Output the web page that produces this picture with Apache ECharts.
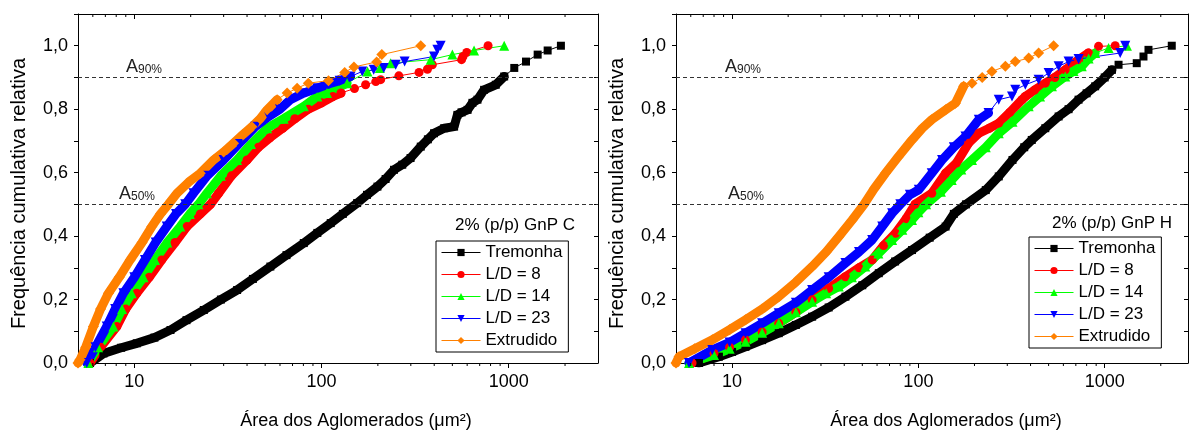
<!DOCTYPE html>
<html>
<head>
<meta charset="utf-8">
<script src="https://cdn.jsdelivr.net/npm/echarts@6/dist/echarts.min.js"></script>
<style>
  html, body { margin: 0; padding: 0; background: #fff; }
  #chart { width: 1190px; height: 430px; }
</style>
</head>
<body>
<div id="chart"></div>
<script>
// legend / series names
const seriesNames = ['Tremonha', 'L/D = 8', 'L/D = 14', 'L/D = 23', 'Extrudido'];
const panelTitles = ['2% (p/p) GnP C', '2% (p/p) GnP H'];
const xMinorTicks = [6, 7, 8, 9, 20, 30, 40, 50, 60, 70, 80, 90, 200, 300, 400, 500, 600, 700, 800, 900, 2000];
const xMax = [3000, 2800];

// 2% (p/p) GnP C  -- [area, cumulative frequency]
const cTremonha = [[5.8,0],[6.84,0.03],[8.5,0.048],[10.3,0.062],[12.8,0.08],[15.6,0.104],[19,0.135],[23.5,0.167],[29,0.2],[35.4,0.23],[43,0.265],[53.3,0.304],[65,0.34],[80.4,0.378],[95,0.41],[112,0.441],[130,0.47],[155,0.504],[175,0.53],[199,0.556],[220,0.58],[244,0.609],[270,0.625],[299,0.646],[339,0.682],[370,0.705],[399,0.724],[452,0.74],[511,0.745],[532,0.782],[560,0.79],[603,0.798],[640,0.82],[681,0.83],[739,0.861],[853,0.877],[946,0.903],[1071,0.93],[1237,0.95],[1428,0.972],[1615,0.985],[1901,1.0]];
const cLD8 = [[5.8,0],[6.6,0.05],[8.06,0.115],[9,0.17],[10.3,0.22],[12,0.27],[14,0.325],[16.5,0.38],[19.1,0.43],[22.5,0.47],[25.5,0.5],[28.2,0.535],[33,0.59],[40,0.64],[46,0.68],[53,0.71],[62,0.74],[72,0.77],[85,0.8],[100,0.82],[115,0.84],[127,0.851],[150,0.865],[172,0.877],[195,0.887],[207,0.893],[259,0.905],[332,0.916],[368,0.926],[391,0.94],[560,0.956],[570,0.966],[597,0.979],[776,1.0]];
const cLD14 = [[5.68,0],[6.4,0.05],[7.73,0.115],[8.6,0.17],[9.68,0.22],[11.2,0.27],[12.9,0.325],[15,0.38],[17.6,0.43],[19.8,0.47],[22,0.5],[24.4,0.535],[29,0.59],[35.4,0.64],[42,0.69],[51.2,0.74],[62.8,0.77],[80.4,0.809],[95,0.84],[107,0.851],[137,0.882],[176,0.919],[205,0.93],[234,0.945],[383,0.956],[500,0.972],[653,0.985],[946,1.0]];
const cLD23 = [[5.57,0],[6.2,0.05],[7.12,0.115],[7.9,0.17],[8.74,0.22],[10,0.27],[11.4,0.325],[13,0.38],[14.9,0.43],[16.7,0.47],[18.7,0.5],[20.7,0.535],[24.5,0.59],[30,0.64],[36,0.69],[44.3,0.745],[52.3,0.777],[60,0.8],[68.2,0.83],[80,0.85],[94.8,0.866],[110,0.88],[125,0.89],[143,0.903],[165,0.919],[190,0.924],[215,0.93],[249,0.94],[278,0.95],[399,0.966],[416,0.987],[433,1.0]];
const cExtrudido = [[5,0],[5.13,0.01],[5.5,0.05],[6.04,0.115],[6.6,0.17],[7.27,0.22],[8.3,0.27],[9.5,0.325],[11,0.38],[12.4,0.43],[13.8,0.47],[15.2,0.5],[16.9,0.535],[19.5,0.57],[22.5,0.598],[26.5,0.64],[30,0.665],[33.9,0.693],[38,0.72],[42.5,0.745],[47,0.77],[51.2,0.798],[57.9,0.83],[65.5,0.851],[74.1,0.866],[85,0.882],[109,0.89],[133,0.916],[149,0.933],[197,0.949],[210,0.972],[339,1.0]];

// 2% (p/p) GnP H
const hTremonha = [[6.64,0],[8.5,0.02],[10,0.035],[11.8,0.051],[14.5,0.072],[17.8,0.094],[22,0.12],[26.9,0.146],[33,0.175],[40.6,0.209],[50,0.245],[61.3,0.283],[75,0.32],[92.4,0.356],[115,0.395],[140,0.43],[155,0.47],[180,0.5],[230,0.545],[270,0.588],[320,0.64],[370,0.68],[406,0.703],[480,0.74],[566,0.777],[640,0.8],[724,0.83],[800,0.85],[889,0.872],[1000,0.9],[1094,0.924],[1187,0.94],[1486,0.945],[1615,0.966],[1718,0.987],[2291,1.0]];
const hLD8 = [[6.1,0],[8,0.03],[9.7,0.05],[11.8,0.073],[14.5,0.098],[17.8,0.125],[22,0.16],[26.9,0.199],[33,0.235],[40.6,0.272],[48,0.3],[56.5,0.325],[65,0.37],[75.4,0.409],[86,0.455],[96,0.5],[118,0.535],[140,0.598],[160,0.63],[186,0.693],[211,0.724],[240,0.74],[270,0.756],[310,0.79],[360,0.83],[375,0.84],[420,0.86],[480,0.882],[540,0.9],[614,0.924],[724,0.956],[818,0.977],[927,0.998],[1138,1.0]];
const hLD14 = [[5.87,0],[8,0.025],[9.7,0.045],[11.8,0.067],[14.5,0.095],[17.8,0.125],[22,0.16],[26.9,0.193],[32,0.22],[37.4,0.241],[44,0.27],[51.9,0.304],[61,0.345],[72.3,0.388],[82,0.42],[92.4,0.451],[100,0.475],[110,0.5],[132,0.54],[151,0.577],[170,0.61],[194,0.64],[230,0.68],[270,0.724],[320,0.76],[391,0.809],[450,0.84],[521,0.872],[614,0.903],[680,0.92],[753,0.935],[820,0.96],[889,0.977],[1049,0.993],[1316,1.0]];
const hLD23 = [[5.87,0],[7.83,0.041],[9.7,0.065],[11.8,0.094],[14.5,0.125],[17.8,0.157],[22,0.19],[26.9,0.23],[33,0.27],[40.6,0.315],[48,0.35],[56.5,0.388],[64,0.43],[72.3,0.472],[80,0.5],[90,0.53],[100.5,0.546],[118,0.598],[134,0.64],[155,0.68],[179,0.714],[211,0.767],[238,0.788],[270,0.83],[318,0.84],[331,0.861],[375,0.877],[442,0.893],[500,0.914],[566,0.935],[640,0.95],[724,0.958],[1211,0.977],[1289,1.0]];
const hExtrudido = [[5,0],[5.19,0.02],[6.3,0.045],[7.83,0.073],[9.7,0.105],[11.8,0.136],[14.5,0.17],[17.8,0.209],[22,0.255],[26.9,0.304],[32,0.35],[37.4,0.398],[44,0.45],[50.9,0.499],[58,0.55],[66.5,0.598],[78,0.65],[92.4,0.703],[105,0.74],[118,0.767],[140,0.798],[158,0.819],[175,0.872],[194,0.882],[220,0.9],[248,0.919],[293,0.935],[331,0.95],[391,0.961],[442,0.977],[532,1.0]];

// where the packed markers stop forming a solid band
const cBandTop = [0.91, 0.852, 0.9, 0.905, 0.83];
const hBandTop = [0.925, 0.98, 0.98, 0.82, 0.88];

const panels = [
  { data: [cTremonha, cLD8, cLD14, cLD23, cExtrudido], band: cBandTop },
  { data: [hTremonha, hLD8, hLD14, hLD23, hExtrudido], band: hBandTop },
];

const FONT = 'Liberation Sans, Arial, sans-serif';
const colors = ['#000000', '#ff0000', '#00ff00', '#0000ff', '#ff8000'];
const symbols = ['rect', 'circle', 'triangle', 'triangle', 'diamond'];
const rotations = [0, 0, 0, 180, 0];
const symbolSizes = [8, 9, 10, 10, 11];

const grids = [
  { left: 78, right: 592, top: 14, bottom: 67, outerBoundsMode: 'none' },
  { left: 676, right: 2, top: 14, bottom: 67, outerBoundsMode: 'none' },
];
const refLabelGap = [[48, 41], [49, 52]];
const xNameShift = [36, 28];

const xAxes = [];
const yAxes = [];
const series = [];

panels.forEach((panel, p) => {
  xAxes.push({
    gridIndex: p, type: 'log', min: 5, max: xMax[p], position: 'bottom',
    axisLine: { show: true, onZero: false, lineStyle: { color: '#000', width: 1 } },
    axisTick: { show: true, inside: false, length: 5, lineStyle: { color: '#000' } },
    axisLabel: {
      showMinLabel: false, showMaxLabel: false, margin: 10,
      fontSize: 18, color: '#000', fontFamily: FONT,
      formatter: v => String(Math.round(v)),
    },
    splitLine: { show: false },
    name: 'Área dos Aglomerados (μm²)', nameLocation: 'middle', nameGap: 49,
    nameTextStyle: { fontSize: 18, color: '#000', fontFamily: FONT, padding: [0, 0, 0, xNameShift[p]] },
  });
  xAxes.push({
    gridIndex: p, type: 'log', min: 5, max: xMax[p], position: 'top',
    axisLine: { show: true, onZero: false, lineStyle: { color: '#000', width: 1 } },
    axisTick: { show: true, inside: true, length: 5, lineStyle: { color: '#000' } },
    axisLabel: { show: false },
    splitLine: { show: false },
  });
  yAxes.push({
    gridIndex: p, type: 'value', min: 0, max: 1.1, interval: 0.1, position: 'left',
    axisLine: { show: true, onZero: false, lineStyle: { color: '#000', width: 1 } },
    axisTick: { show: true, inside: false, length: 4, lineStyle: { color: '#000' } },
    axisLabel: {
      margin: 10, fontSize: 18, color: '#000', fontFamily: FONT,
      formatter: v => {
        const k = Math.round(v * 10);
        return (k % 2 === 0 && k <= 10) ? (k / 10).toFixed(1).replace('.', ',') : '';
      },
    },
    splitLine: { show: false },
    name: 'Frequência cumulativa relativa', nameLocation: 'middle', nameGap: 49,
    nameTextStyle: { fontSize: 20, color: '#000', fontFamily: FONT, padding: [0, 10, 0, 0] },
  });
  yAxes.push({
    gridIndex: p, type: 'value', min: 0, max: 1.1, interval: 0.1, position: 'right',
    axisLine: { show: true, onZero: false, lineStyle: { color: '#000', width: 1 } },
    axisTick: { show: true, inside: true, length: 4, lineStyle: { color: '#000' } },
    axisLabel: { show: false },
    splitLine: { show: false },
  });

  panel.data.forEach((pts, i) => {
    const marker = {
      type: 'line', name: seriesNames[i],
      xAxisIndex: p * 2, yAxisIndex: p * 2,
      data: pts,
      symbol: symbols[i], symbolRotate: rotations[i], symbolSize: symbolSizes[i],
      showAllSymbol: true,
      itemStyle: { color: colors[i] },
      lineStyle: { color: colors[i], width: 1 },
      emphasis: { disabled: true },
      z: 3,
    };
    if (i === 0) {
      marker.markLine = {
        silent: true, symbol: ['none', 'none'],
        lineStyle: { color: '#333', type: [4, 3], width: 1 },
        label: {
          show: true, position: 'insideStartTop',
          formatter: prm => '{a|A}{b|' + prm.name.slice(1) + '}',
          rich: {
            a: { fontSize: 18, color: '#222', fontFamily: FONT, verticalAlign: 'bottom' },
            b: { fontSize: 12, color: '#222', fontFamily: FONT, verticalAlign: 'bottom', padding: [0, 0, 1, 0] },
          },
        },
        data: [
          { yAxis: 0.9, name: 'A90%', label: { distance: [refLabelGap[p][0], 1] } },
          { yAxis: 0.5, name: 'A50%', label: { distance: [refLabelGap[p][1], 1] } },
        ],
      };
    }
    series.push(marker);
    series.push({
      type: 'line', name: seriesNames[i],
      xAxisIndex: p * 2, yAxisIndex: p * 2,
      data: pts.filter(d => d[1] <= panel.band[i]),
      symbol: 'none', silent: true,
      lineStyle: { color: colors[i], width: 9, cap: 'round', join: 'round' },
      z: 3,
    });
  });

  // minor ticks of the log axes (bottom outward, top inward)
  series.push({
    type: 'custom', xAxisIndex: p * 2, yAxisIndex: p * 2, silent: true,
    data: xMinorTicks.filter(v => v < xMax[p]).map(v => [v]),
    renderItem: (params, api) => {
      const b = api.coord([api.value(0), 0]);
      const t = api.coord([api.value(0), 1.1]);
      return {
        type: 'group',
        children: [
          { type: 'line', shape: { x1: b[0], y1: b[1], x2: b[0], y2: b[1] + 3 }, style: { stroke: '#000', lineWidth: 1 } },
          { type: 'line', shape: { x1: t[0], y1: t[1], x2: t[0], y2: t[1] + 3 }, style: { stroke: '#000', lineWidth: 1 } },
        ],
      };
    },
    z: 5,
  });
});

const legendBase = {
  data: seriesNames, orient: 'vertical', selectedMode: false,
  padding: [3, 6, 3, 5], itemGap: 5, itemWidth: 39, itemHeight: 9,
  borderColor: '#000', borderWidth: 1, backgroundColor: '#fff',
  lineStyle: { width: 1 },
  textStyle: { fontSize: 17, color: '#000', fontFamily: FONT },
};

const option = {
  animation: false,
  backgroundColor: '#fff',
  grid: grids,
  xAxis: xAxes,
  yAxis: yAxes,
  legend: [
    Object.assign({}, legendBase, { left: 436, top: 241 }),
    Object.assign({}, legendBase, { left: 1029, top: 237 }),
  ],
  graphic: [
    { type: 'text', right: 615, top: 217, style: { text: panelTitles[0], fontSize: 17, fontFamily: FONT, fill: '#000' } },
    { type: 'text', right: 18, top: 215, style: { text: panelTitles[1], fontSize: 17, fontFamily: FONT, fill: '#000' } },
  ],
  series: series,
};

const chart = echarts.init(document.getElementById('chart'));
chart.setOption(option);
</script>
</body>
</html>
